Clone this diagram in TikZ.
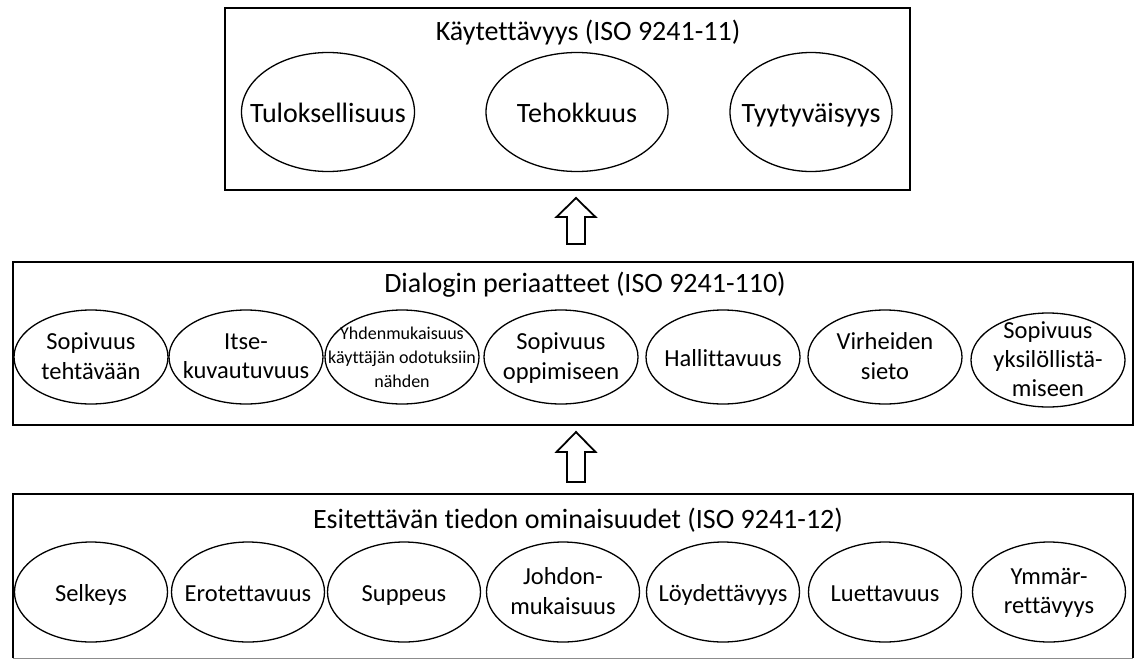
\documentclass[tikz,border=0pt]{standalone}
\usepackage{fontspec}
\setmainfont{Carlito}[Ligatures=NoCommon]
\usetikzlibrary{shapes.geometric,calc}
\begin{document}
\begin{tikzpicture}[x=1pt,y=-1pt,
  panel/.style={draw=black,line width=2.4pt,inner sep=0pt},
  heading/.style={font=\fontsize{28}{34}\selectfont,inner sep=0pt,anchor=center},
  % ellipse outlines have fixed sizes; their texts are set in separate nodes
  ring/.style={ellipse,draw=black,line width=1.3pt,inner sep=0pt,outer sep=0pt},
  bigoval/.style={ring,minimum height=119pt},
  oval/.style={ring,minimum width=154pt,minimum height=94pt},
  lowoval/.style={ring,minimum width=153pt,minimum height=100pt},
  % struts keep all labels on a common baseline regardless of descenders
  strutted/.style={inner sep=0pt,align=center,yshift=-3.5pt,
    execute at begin node=\strut,execute at end node=\strut},
  bigtext/.style={strutted,font=\fontsize{28}{34}\selectfont},
  ovaltext/.style={strutted,font=\fontsize{24.5}{29.5}\selectfont},
  smalltext/.style={strutted,font=\fontsize{18}{24}\selectfont},
  blockarrow/.style={draw=black,line width=1.8pt,fill=white,line join=miter}
]
\useasboundingbox (0,0) rectangle (1135,659);

% --- top level: usability ---
\node[panel,minimum width=685pt,minimum height=182pt] (usab) at (567.5,99) {};
\node[heading] (usabt) at (588,33) {Käytettävyys (ISO 9241-11)};
\node[bigoval,minimum width=173pt] (u1) at (328,112) {};
\node[bigoval,minimum width=182pt] (u2) at (577,112) {};
\node[bigoval,minimum width=162pt] (u3) at (811,112) {};
\node[bigtext] (u1t) at (u1) {Tuloksellisuus};
\node[bigtext] (u2t) at (u2) {Tehokkuus};
\node[bigtext] (u3t) at (u3) {Tyytyväisyys};

% --- middle level: dialogue principles ---
\node[panel,minimum width=1120pt,minimum height=163pt] (dial) at (573,343.5) {};
\node[heading] (dialt) at (585,285) {Dialogin periaatteet (ISO 9241-110)};
\node[oval] (d1) at (91,357)   {};
\node[oval] (d2) at (246,357)  {};
\node[oval] (d3) at (402,357)  {};
\node[oval] (d4) at (561,357)  {};
\node[oval] (d5) at (723,357)  {};
\node[oval] (d6) at (885,357)  {};
\node[oval] (d7) at (1048,360) {};
\node[ovaltext] (d1t) at (d1) {Sopivuus\\tehtävään};
\node[ovaltext] (d2t) at (d2) {Itse-\\kuvautuvuus};
\node[smalltext] (d3t) at (d3) {Yhdenmukaisuus\\käyttäjän odotuksiin\\nähden};
\node[ovaltext] (d4t) at (d4) {Sopivuus\\oppimiseen};
\node[ovaltext] (d5t) at (d5) {Hallittavuus};
\node[ovaltext] (d6t) at (d6) {Virheiden\\sieto};
\node[ovaltext,font=\fontsize{24.5}{29}\selectfont] (d7t) at (d7) {Sopivuus\\yksilöllistä-\\miseen};

% --- bottom level: presented information ---
\node[inner sep=0pt,minimum width=1120pt,minimum height=164pt] (pres) at (573,576) {};
\draw[line width=2.4pt] (pres.south west) -- (pres.north west) -- (pres.north east) -- (pres.south east);
\draw[black!45,line width=1pt] (pres.south west) -- (pres.south east);
\node[heading] (prest) at (578,520) {Esitettävän tiedon ominaisuudet (ISO 9241-12)};
\node[lowoval] (p1) at (91,592)   {};
\node[lowoval] (p2) at (248,592)  {};
\node[lowoval] (p3) at (404,592)  {};
\node[lowoval] (p4) at (563,592)  {};
\node[lowoval] (p5) at (723,592)  {};
\node[lowoval] (p6) at (885,592)  {};
\node[lowoval] (p7) at (1049,592) {};
\node[ovaltext] (p1t) at (p1) {Selkeys};
\node[ovaltext] (p2t) at (p2) {Erotettavuus};
\node[ovaltext] (p3t) at (p3) {Suppeus};
\node[ovaltext] (p4t) at (p4) {Johdon-\\mukaisuus};
\node[ovaltext] (p5t) at (p5) {Löydettävyys};
\node[ovaltext] (p6t) at (p6) {Luettavuus};
\node[ovaltext] (p7t) at (p7) {Ymmär-\\rettävyys};

% --- hollow block arrows between the levels ---
\coordinate (up1) at (576,221);
\coordinate (up2) at (576,457);
\draw[blockarrow] (up1) ++(-9,23) -- ++(0,-27) -- ++(-10.5,0) -- ++(19.5,-19)
  -- ++(19.5,19) -- ++(-10.5,0) -- ++(0,27) -- cycle;
\draw[blockarrow] (up2) ++(-9,25) -- ++(0,-30) -- ++(-10.5,0) -- ++(19.5,-20)
  -- ++(19.5,20) -- ++(-10.5,0) -- ++(0,30) -- cycle;
\end{tikzpicture}
\end{document}
